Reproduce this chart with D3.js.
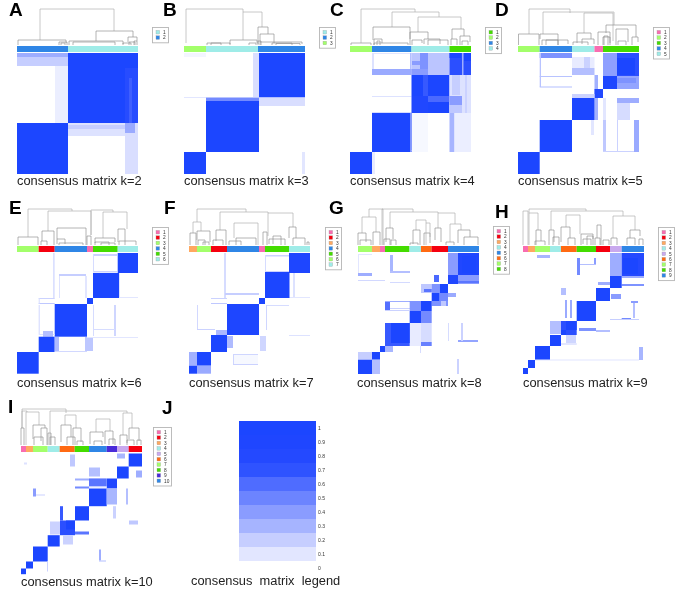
<!DOCTYPE html>
<html><head><meta charset="utf-8">
<script src="https://cdn.jsdelivr.net/npm/d3@7"></script>
<style>html,body{margin:0;background:#fff}svg{display:block;filter:blur(0.45px)}text{font-family:"Liberation Sans",Arial,sans-serif}</style>
</head><body><svg id="c" width="685" height="597"></svg>
<script>
// palette names
const pink="#F96CB0",red="#F5000F",orange="#FFA860",cyan="#9FECE8",purple="#C9A9EE",
      orangered="#FF6A13",lgreen="#A3FF6B",dgreen="#44DC00",indigo="#4A2BD9",blue="#2F86E6";

// consensus colour legend
const legendTicks=[0,0.1,0.2,0.3,0.4,0.5,0.6,0.7,0.8,0.9,1];
const legendBands=["#E2E6FF","#C6CEFF","#A6B4FF","#8A9CFF","#6C84FF","#4F6CFF","#2F53FF","#2449FF","#1F46FF","#1C46FF"];
// how the estimated region strengths below map to those colours
const heatStops=[0,.1,.22,.36,.5,.63,.74,.82,.9,.96,1];

// annotation bars: cluster boundaries along the 121 samples, and colours
const k2Breaks=[0,51,121],k2Bar=[blue,cyan];
const k3Breaks=[0,22,74,121],k3Bar=[lgreen,cyan,blue];
const k4Breaks=[0,22,61.5,99.5,121],k4Bar=[lgreen,blue,cyan,dgreen];
const k5Breaks=[0,21.7,54,76.5,85,121],k5Bar=[lgreen,blue,cyan,pink,dgreen];
const k6Breaks=[0,21.7,37.7,70,76,100.7,121],k6Bar=[lgreen,red,blue,pink,dgreen,cyan];
const k7Breaks=[0,8,22,38,70,76,100,121],k7Bar=[orange,lgreen,red,blue,pink,dgreen,cyan];
const k8Breaks=[0,14,22,27,51.5,63,73.5,90,121],k8Bar=[lgreen,orange,pink,dgreen,cyan,orangered,red,blue];
const k9Breaks=[0,5,12,27,38,53.7,73,87,98.7,121],k9Bar=[pink,orange,lgreen,cyan,orangered,dgreen,red,purple,blue];
const k10Breaks=[0,5,12,26.7,38.7,53.7,68,85.7,96,107.7,121],k10Bar=[pink,orange,lgreen,cyan,orangered,dgreen,blue,indigo,purple,red];

// legend swatch colours
const k2Key=[cyan,blue];
const k3Key=[cyan,blue,lgreen];
const k4Key=[dgreen,lgreen,blue,cyan];
const k5Key=[pink,lgreen,dgreen,blue,cyan];
const k6Key=[pink,red,lgreen,blue,dgreen,cyan];
const k7Key=[pink,red,orange,blue,dgreen,lgreen,cyan];
const k8Key=[pink,red,orange,cyan,blue,orangered,lgreen,dgreen];
const k9Key=[pink,red,orange,cyan,purple,orangered,lgreen,dgreen,blue];
const k10Key=[pink,red,orange,cyan,purple,orangered,lgreen,dgreen,indigo,blue];

// matrix regions: [col0,col1,row0,row1,consensus], rows counted from the top
const k2Cells=[[0,51,0,4,.4],[0,51,4,13,.22],[38,51,13,70,.07],[51,108,0,70,1],[108,121,0,15,1],[108,121,15,70,.88],[112,115,25,70,.78],[108,121,70,121,.14],[108,118,70,80,.42],[51,108,70,83,.12],[51,108,72,76,.22],[0,51,70,121,1]];
const k3Cells=[[0,22,0,4,.04],[69,75,0,44,.14],[75,121,0,44.5,1],[75,121,44.5,53,.14],[22,75,44.5,48,.6],[0,22,44,45,.1],[22,75,48,99,1],[0,22,99,121,1],[118,121,99,121,.1]];
const k4Cells=[[22,61.5,0,1,.1],[22,24,0,16,.12],[60,61.5,0,22,.3],[22,61.5,16,22,.42],[61.5,99.5,0,22,.27],[70,78,0,22,.55],[62,70,8,12,.5],[61.5,78,16,22,.5],[99.5,121,0,22,.85],[112,113.5,0,22,.4],[99.5,111,0,5,1],[114,121,0,8,1],[22,61.5,43,44,.12],[22,61.5,59,60,.15],
[61.5,99.5,22,60,1],[73,78,22,43,.8],[78,99.5,43,49,.75],[62,78,43,60,.95],[99.5,121,22,60,.12],[102,110,22,42,.22],[99.5,112,43,52,.5],[99.5,112,52,60,.25],[115,117,22,60,.2],
[22,61.5,60,99,1],[60,61.5,60,99,.55],[99.5,104.5,60,99,.36],[104.5,121,60,99,.07],[61.5,78,97,98,.25],[62,78,60,99,.03],[22,25,99,121,.08],[0,22,99,121,1]];
const k5Cells=[[21.7,54,0,5,.55],[21.7,23,0,34,.28],[21.7,54,23,24,.28],[21.7,54,33.5,34.5,.3],[54,76.5,15,22,.3],[54,76.5,4,15,.08],[66,72,4,15,.2],[85,99,0,23,.48],[99,121,0,23,.85],[99,117,5,22,1],[85,99,23,36,.97],[99,121,23,36,.45],[99,118,25,30,.55],
[76.5,80,22,67,.38],[76.5,85,36,45,.92],[54,76.5,41,45,.2],[54,76.5,45,67,1],[99,121,45,50,.4],[99,112,50,67,.15],[85,88,45,67,.1],[21.7,54,67,99,1],[85,88,67,99,.25],[99,100,67,99,.2],[116,121,67,99,.42],[85,116,98,99,.2],[73,76,67,82,.1],[0,21.7,99,121,1]];
const k6Cells=[[36,37.7,0,45,.13],[76,100,1,3,.2],[76,100,18,19.5,.2],[76,77,1,19,.15],[42,69,21,23,.22],[42,43,23,45,.12],[68,70,23,45,.1],[100.7,103,20,45,.12],[100.7,121,44,45,.1],[21.7,37.7,45,46,.2],[21.7,37.7,50,51,.25],[21.7,22.7,45,51,.15],
[100.7,121,0,20,1],[76,102,20,45,1],[70,76,45,51,1],[37.7,70,51,83.7,1],[21.7,22.7,52,81,.17],[21.7,37.7,81,82,.12],[26,36,78,83.7,.3],[76,77,52,83,.15],[97,99,52,83,.18],[76,98,76,77,.15],[21.7,37.7,83.7,99,1],[37.7,42,84,98,.32],[68,76,84,98,.26],[37.7,70,98,99,.17],[70,121,84,85,.1],[0,21.7,99,120.7,1]];
const k7Cells=[[35,37,0,45,.15],[76,100,2,3.5,.2],[76,100,18,19.5,.2],[76,77,2,19,.15],[36,70,40,42,.22],[104,106,20,45,.12],[100,121,44,45,.1],[22,38,45,46,.2],[22,38,50,51,.25],[8,9,52,77,.17],[8,26,76,77,.2],
[100,121,0,20,.97],[76,100.5,19,45,1],[70,76,45,51,1],[38,70,51,82,.97],[38,42,76,82,1],[77,78,52,77,.18],[78,100,52,53,.15],[27,38,77,82,.34],[100,121,82,83,.12],[22,38,82,99,1],[38,44,83,95,.32],[71,77,83,98,.18],[44,69,102,112,.03],[44,45,102,112,.18],[44,69,111,112,.2],[44,69,101,102,.18],
[0,8,99,112.7,.38],[8,22,99,112.7,1],[0,8,112.7,120.7,1],[8,22,112.7,120.7,.42]];
const k8Cells=[[0,14,1,2,.1],[0,1,2,20,.1],[0,14,20,23,.4],[32,35,2,20,.35],[32,52,18,20,.3],[0,27,27,28,.17],[32,52,29,30,.16],[90,100,0,22,.5],[100,121,0,22,.95],[104,118,3,20,1],[90,100,22,31,.95],[100,121,22,31,.5],[100,121,28,30,.7],
[76,81,22,29,.75],[63,73.7,31,40,.25],[73.7,81.7,31,40,.55],[81.7,90,31,40,1],[90,98,40,44,.42],[73.7,81.7,40,48,1],[81.7,90,40,48,.6],[66,73.7,36,39,.7],[73.7,90,48,53,.55],[83,88,48,53,.25],
[27,32,48,58,.72],[27,52,48,49,.4],[32,52,55,56,.2],[51.7,63,48,58,.55],[63,73.7,48,58,1],[51.7,63,58,70,1],[63,73.7,58,70,.6],[27,52,57,58,.2],[63,73.7,70,89,.15],[63,73.7,89,93,.65],[51.7,63,70,93,.08],
[27,51.7,70,93,.8],[33,51.7,70,90,1],[27,35,93,99,.35],[100,120,87,89,.45],[103,105,70,88,.2],[90,91,70,88,.15],[0,14,99,106.7,.22],[14,22,99,106.7,1],[22,27,93,99,1],[14,22,106.7,121,.3],[0,14,106.7,121,1],[99,101,106,121,.2],[62,63,93,100,.15]];
const k9Cells=[[14,27,2,5,.35],[54,57,5,22,.6],[57,73,11,12,.3],[71,73,5,11,.5],[87,98.7,0,23,.4],[98.7,121,0,23,.9],[100,115,5,21,1],[98.7,121,23,25,.4],[98.7,121,31,33,.55],[38,43,35,42,.3],[75,87,29,32,.4],[88,98,41,46,.5],[42,44,47,65,.42],[47,49,47,65,.42],
[87,98.7,23,35,1],[73,87,35,48,1],[53.7,73,48,68,1],[98.7,108,65,67,.6],[87,116,66,67,.22],[110,112,48,65,.3],[108,115,48,50,.5],[27,38,68,81,.3],[38,53.7,68,82,.85],[43,53.7,68,77,1],[38,43,77,82,1],[56,73,75,78,.55],[73,87,77,79,.3],[43,53,82,90,.18],[38,53.7,90,92,.1],[27,38,82,93,1],[12,27,93,107,1],[116,120,94,107,.35],[12,116,106.5,107.5,.1],[5,12,107,115,1],[0,5,115,121,1]];
const k10Cells=[[96,104,0,5,.35],[49,54,1,13,.25],[3,6,9,11,.12],[107.7,121,0,13,1],[115,121,17,24,.4],[68,79,14,23,.3],[68,85,25,26,.2],[54,68,25,27,.4],[96,107.7,13,25,1],[85.7,96,25,35,.95],[68,85.7,25,33,.7],[68,85.7,33,34,.15],[54,68,33,35,.6],[68,85.7,35,52.7,1],[85.7,96,35,51,.35],[105,107,35,51,.3],[12,15,35,43,.5],[15,24,41,42,.2],
[39,42,52.7,67,.8],[54,68,52.7,67,1],[92,95,52.7,65,.2],[108,117,67,71,.25],[39,54,67,81.7,.85],[45,54,67,76,1],[29,39,68,81,.2],[54,68,78,81,.7],[42,52,81.7,91,.2],[26.7,38.7,81.7,93,1],[12,26.7,93,108,1],[78,80,96,107,.4],[78,85,107,108,.3],[5,12,108,115,1],[26,27,108,118,.2],[0,5,115,120.7,1]];

// dendrogram merges: [left sample, right sample, height, left child height, right child height]
const k2Tree=[[23,97,36,5,14],[1,49,5,0,2],[42,50,3,0,0],[44,48,2,0,0],[79,116,14,4,8],[52,106,4,0,1],[56,98,3,0,0],[106,114,2,0,0],[111,120,8,3,4],[112,118,3,0,0],[117,120,4,0,0]];
const k3Tree=[[2,59,36,2,33],[59,78,33,5,18],[46,73,5,1,2],[23,46,2,0,0],[27,37,2,0,0],[74,84,18,1,11],[76,90,11,3,2],[76,118,3,0,1],[88,108,2,0,0],[65,72,2,0,0],[74,77,4,0,0],[92,116,1.5,0,0]];
const k4Tree=[[11,65,36,2,33],[1,21,2,0,0],[42,89,33,18,28],[23,60,18,5,0],[24,58,2,0,0],[24,32,6,0,2],[27,30,4,0,0],[68,111,28,13,16],[60,78,13,6,6],[62,72,5,0,2],[74,90,6,1,1],[78,98,5,0,0],[102,114,16,6,9],[101,107,6,0,0],[110,120,9,0,3],[112,118,4,0,0]];
const k5Tree=[[11,52,36,11,32],[0.5,21,11,0,0],[25,96,33,11,20],[22,40,11,6,0],[24,50,5,0,1],[28,40,5,0,0],[66,95,32,12,4],[59,73,12,2,6],[55,70,3,0,0],[64,76,6,1,1],[80,92,13,0,2],[88,118,20,12,8],[98,110,16,0,3],[85,92,8,0,0],[100,108,4,0,0],[114,120,8,0,3],[86,90,9,0,0]];
const k6Tree=[[11,55,36,8,34],[1,21,8,0,0],[31,74,34,14,10],[25,37,14,4,0],[24,30,4,0,0],[40,69,17,6,0],[40,48,6,1,1],[42,66,2,0,0],[70,74,9,0,0],[74,96,35,10,33],[86,110,33,7,16],[78,98,7,2,3],[78,92,3,0,0],[84,98,2,0,0],[101,108,16,3,0],[102,119,4,0,0]];
const k7Tree=[[8,57,36,23,33],[4,12,23,12,14],[1,7,12,0,0],[8,21,14,5,3],[9,16,5,0,0],[14,20,3,0,0],[31,79,33,15,32],[27,37,15,4,0],[24,34,5,0,0],[45,69,22,7,0],[47,67,7,0,0],[40,52,4,0,0],[79,104,32,9,18],[74,78,13,0,0],[80,96,6,1,0],[84,92,9,1,0],[100,107,18,7,7],[104,116,7,0,0],[118,120,3,0,0]];
const k8Tree=[[11,55,36,28,33],[4,18,28,12,13],[0,8,12,0,3],[2,13,5,0,0],[15,22,13,0,0],[24,25,36,0,0],[32,80,33,17,32],[28,35,17,3,6],[26,32,6,0,0],[33,38,5,0,0],[58,68,25,15,22],[55,62,15,1,0],[52,60,2,0,0],[66,72,12,0,2],[68,72,22,0,8],[80,97,32,17,21],[77,83,17,5,3],[92,103,21,3,15],[88,96,3,0,0],[100,112,15,2,8],[106,120,8,0,0]];
const k9Tree=[[6,63,36,32,34],[0,5,34,0,0],[6,15,32,0,15],[13,18,15,0,4],[12,22,4,0,0],[28,100,34,15,29],[26,31,15,0,3],[30,36,8,0,0],[43,57,30,18,11],[38,47,18,3,7],[45,52,7,0,0],[58,70,11,0,6],[60,68,6,1,0],[74,78,20,7,0],[72,77,7,0,0],[80,86,5,0,0],[90,112,29,7,15],[88,94,7,0,0],[107,117,15,7,9],[104,112,7,0,0],[116,120,6,0,0],[64,70,9,0,0]];
const k10Tree=[[1,45,36,17,32],[1,6,34,17,33],[0,3,17,0,0],[5,18,33,0,20],[12,24,20,6,17],[13,22,8,0,0],[20,26,17,4,0],[27,30,12,0,0],[29,34,8,0,0],[29,106,34,0,32],[44,55,30,20,17],[40,50,20,3,8],[46,54,8,0,0],[52,60,17,0,3],[56,62,4,0,0],[75,89,26,13,14],[69,82,13,1,8],[73,81,4,0,0],[84,92,14,1,1],[88,94,6,0,0],[102,111,32,10,17],[99,106,10,0,2],[108,118,17,6,4],[106,113,5,0,0],[116,120,5,0,0]];

const labelText=["A","B","C","D","E","F","G","H","I","J"];

// page layout of each panel
const frames=[
 {k:2, cells:k2Cells, bar:k2Bar, breaks:k2Breaks, tree:k2Tree, key:k2Key, x:17, y:53, treeBase:45, barTop:46, keyBox:[152,27,16], cap:[17,185], label:[9,16]},
 {k:3, cells:k3Cells, bar:k3Bar, breaks:k3Breaks, tree:k3Tree, key:k3Key, x:184, y:53, treeBase:45, barTop:46, keyBox:[319,27,16], cap:[184,185], label:[163,16]},
 {k:4, cells:k4Cells, bar:k4Bar, breaks:k4Breaks, tree:k4Tree, key:k4Key, x:350, y:53, treeBase:45, barTop:46, keyBox:[485,27,16], cap:[350,185], label:[330,16]},
 {k:5, cells:k5Cells, bar:k5Bar, breaks:k5Breaks, tree:k5Tree, key:k5Key, x:518, y:53, treeBase:45, barTop:46, keyBox:[653,27,16], cap:[518,185], label:[495,16]},
 {k:6, cells:k6Cells, bar:k6Bar, breaks:k6Breaks, tree:k6Tree, key:k6Key, x:17, y:253, treeBase:245, barTop:246, keyBox:[152,227,16], cap:[17,387], label:[9,214]},
 {k:7, cells:k7Cells, bar:k7Bar, breaks:k7Breaks, tree:k7Tree, key:k7Key, x:189, y:253, treeBase:245, barTop:246, keyBox:[325,227,16], cap:[189,387], label:[164,214]},
 {k:8, cells:k8Cells, bar:k8Bar, breaks:k8Breaks, tree:k8Tree, key:k8Key, x:358, y:253, treeBase:245, barTop:246, keyBox:[493,226,16], cap:[357,387], label:[329,214]},
 {k:9, cells:k9Cells, bar:k9Bar, breaks:k9Breaks, tree:k9Tree, key:k9Key, x:523, y:253, treeBase:245, barTop:246, keyBox:[658,227,16], cap:[523,387], label:[495,218]},
 {k:10,cells:k10Cells,bar:k10Bar,breaks:k10Breaks,tree:k10Tree,key:k10Key,x:21, y:453.5, treeBase:445, barTop:446, keyBox:[153,427,18], cap:[21,586], label:[8,413]}
];

const svg=d3.select("#c");
const heat=d3.scaleLinear().domain(heatStops).range(["#FFFFFF",...legendBands]).clamp(true);
const side=121, treeHeight=36;
const col=d3.scaleLinear().domain([0,121]);
const height=d3.scaleLinear().domain([0,36]);

frames.forEach((f,i)=>{
  const g=svg.append("g");
  const xs=col.copy().range([f.x,f.x+side]);
  const ys=col.copy().range([f.y,f.y+side]);
  const hs=height.copy().range([f.treeBase,f.treeBase-treeHeight]);
  // dendrogram
  g.append("g").selectAll("path").data(f.tree).join("path")
    .attr("fill","none").attr("stroke",d=>d[2]>20?"#aaaaaa":"#8c8c8c").attr("stroke-width",.65)
    .attr("d",d=>d3.line()([[xs(d[0]),hs(d[3])],[xs(d[0]),hs(d[2])],[xs(d[1]),hs(d[2])],[xs(d[1]),hs(d[4])]]));
  // annotation bar
  g.append("g").selectAll("rect").data(f.bar).join("rect")
    .attr("x",(d,j)=>xs(f.breaks[j])).attr("width",(d,j)=>xs(f.breaks[j+1])-xs(f.breaks[j]))
    .attr("y",f.barTop).attr("height",6).attr("fill",d=>d);
  // matrix
  g.append("g").selectAll("rect").data(f.cells).join("rect")
    .attr("x",d=>xs(d[0])).attr("width",d=>xs(d[1])-xs(d[0]))
    .attr("y",d=>ys(d[2])).attr("height",d=>ys(d[3])-ys(d[2]))
    .attr("fill",d=>heat(d[4]));
  // key
  const [kx,ky,kw]=f.keyBox, step=5.4;
  const key=g.append("g");
  key.append("rect").attr("x",kx+.5).attr("y",ky+.5).attr("width",kw).attr("height",f.key.length*step+4.5)
    .attr("fill","#fff").attr("stroke","#b5b5b5").attr("stroke-width",.9);
  f.key.forEach((c,j)=>{
    key.append("rect").attr("x",kx+4).attr("y",ky+3.4+j*step).attr("width",3.6).attr("height",3.6)
      .attr("fill",c).attr("stroke","#999").attr("stroke-width",.3);
    key.append("text").attr("x",kx+11).attr("y",ky+6.9+j*step).attr("font-size",4.8).attr("fill","#333").text(j+1);
  });
  // caption and letter
  g.append("text").attr("x",f.cap[0]).attr("y",f.cap[1]).attr("font-size",12.85).attr("fill","#222").text("consensus matrix k="+f.k);
  g.append("text").attr("x",f.label[0]).attr("y",f.label[1]).attr("font-size",19).attr("font-weight","bold").attr("fill","#000").text(labelText[i]);
});

// panel J: colour legend
const barY=d3.scaleLinear().domain([0,1]).range([561,421]);
const jg=svg.append("g");
jg.selectAll("rect").data(legendBands).join("rect")
  .attr("x",239).attr("width",77)
  .attr("y",(d,i)=>barY(legendTicks[i+1])).attr("height",(d,i)=>barY(legendTicks[i])-barY(legendTicks[i+1]))
  .attr("fill",d=>d);
const tickY=d3.scaleLinear().domain([0,1]).range([568,428]);
const ax=jg.append("g").attr("transform","translate(318,0)")
  .call(d3.axisRight(tickY).tickValues(legendTicks).tickSize(0).tickPadding(0).tickFormat(d3.format("")));
ax.select(".domain").remove();
ax.selectAll("text").attr("font-size",5).attr("fill","#333").attr("font-family",null);
jg.append("text").attr("x",191).attr("y",585).attr("font-size",12.85).attr("fill","#222")
  .style("white-space","pre").text("consensus  matrix  legend");
svg.append("text").attr("x",162).attr("y",414).attr("font-size",19).attr("font-weight","bold").text(labelText[9]);
</script></body></html>
